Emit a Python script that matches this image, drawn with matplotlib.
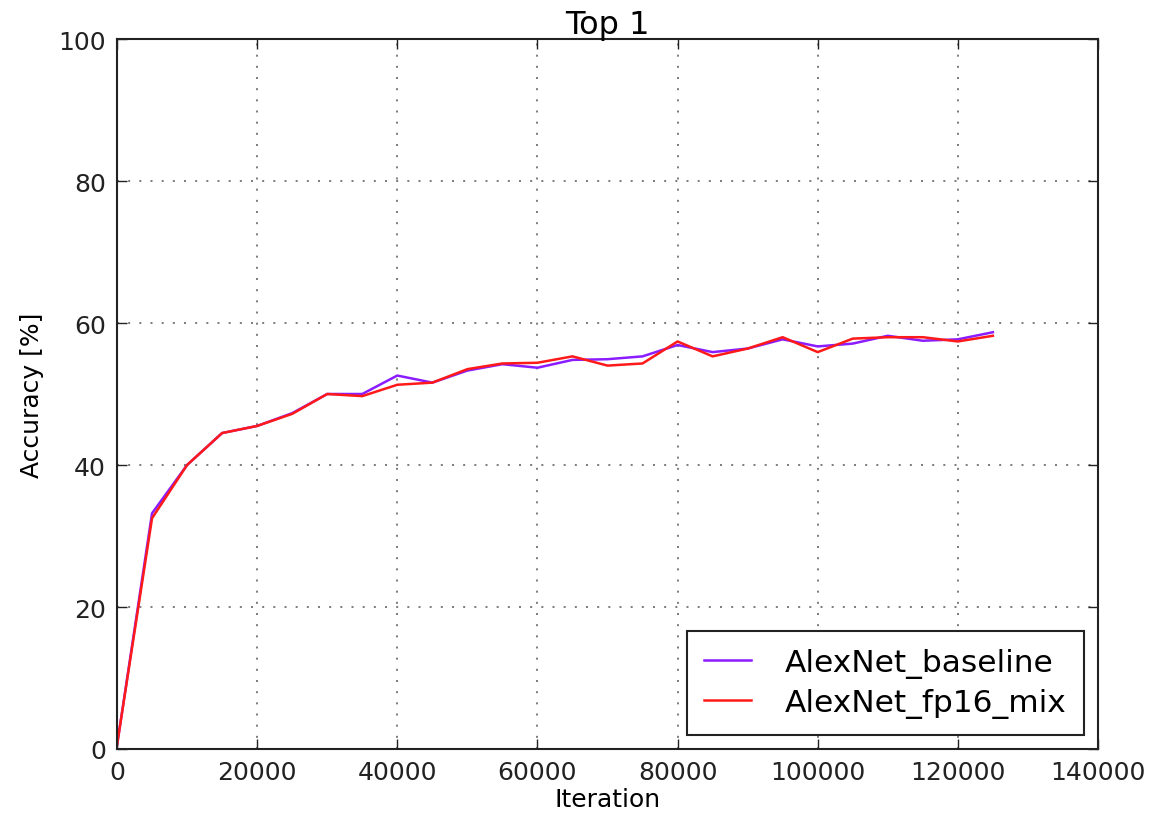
import matplotlib
matplotlib.use('Agg')
import matplotlib.pyplot as plt

# iterations (every 5000)
iters=[0,5000,10000,15000,20000,25000,30000,35000,40000,45000,50000,55000,60000,
       65000,70000,75000,80000,85000,90000,95000,100000,105000,110000,115000,120000,125000]

baseline=[0.5,33.2,40.0,44.5,45.5,47.3,50.0,50.0,52.6,51.6,53.3,54.2,53.7,
          54.8,54.9,55.3,56.9,55.9,56.4,57.7,56.7,57.1,58.2,57.5,57.7,58.7]
fp16_mix=[0.5,32.5,40.0,44.5,45.5,47.2,50.0,49.7,51.3,51.6,53.5,54.3,54.4,
          55.3,54.0,54.3,57.4,55.3,56.4,58.0,55.9,57.8,58.0,58.0,57.4,58.2]

plt.rcParams['font.family']='DejaVu Sans'
plt.rcParams['font.size']=18

fig=plt.figure(figsize=(11.5,8.2),dpi=100)
ax=fig.add_axes([117/1150,1-750/820,981/1150,710/820])

ax.plot(iters,baseline,c='#8a1cff',lw=1.8,label='AlexNet_baseline')
ax.plot(iters,fp16_mix,c='#ff1a1a',lw=1.8,label='AlexNet_fp16_mix')

ax.set_xlim(0,140000)
ax.set_ylim(0,100)
ax.set_xticks(range(0,140001,20000))
ax.set_yticks(range(0,101,20))
ax.tick_params(direction='in',top=True,right=True,length=7,width=1,pad=8,colors='#222222')
for s in ax.spines.values():
    s.set_linewidth(1.5)
    s.set_color('#222222')
ax.grid(True,color='#666666',lw=1.2,dashes=(1.2,5.5))

ax.set_title('Top 1',fontsize=23,pad=4)
ax.set_xlabel('Iteration',fontsize=18,labelpad=2)
ax.set_ylabel('Accuracy [%]',fontsize=18,labelpad=10)

leg=ax.legend(loc='lower right',fontsize=22.5,fancybox=False,handlelength=1.5,
              handletextpad=1.1,borderpad=0.55,labelspacing=0.3,borderaxespad=0.45,framealpha=1)
leg.get_frame().set_edgecolor('#222222')
leg.get_frame().set_linewidth(1.5)

fig.savefig('out.png',dpi=100,facecolor='white')
